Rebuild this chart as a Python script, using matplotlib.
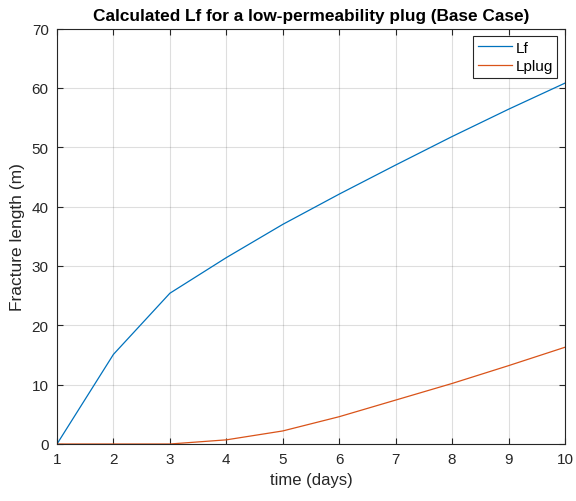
import matplotlib
matplotlib.use("Agg")
import matplotlib.pyplot as plt

plt.rcParams['font.family'] = ['Liberation Sans', 'DejaVu Sans']

time_days = [1, 2, 3, 4, 5, 6, 7, 8, 9, 10]
lf = [0.0, 15.1, 25.4, 31.4, 37.0, 42.1, 47.0, 51.8, 56.4, 60.8]
lplug = [0.0, 0.0, 0.0, 0.7, 2.2, 4.6, 7.4, 10.2, 13.2, 16.3]

axis_color = '#262626'

fig = plt.figure(figsize=(5.76, 5.02), dpi=100)
ax = fig.add_axes([57 / 576, 1 - 445 / 502, (565 - 57) / 576, (445 - 29.5) / 502])

ax.plot(time_days, lf, color='#0072BD', lw=0.9, label='Lf')
ax.plot(time_days, lplug, color='#D95319', lw=0.9, label='Lplug')

ax.set_xlim(1, 10)
ax.set_ylim(0, 70)
ax.set_xticks(range(1, 11))
ax.set_yticks(range(0, 71, 10))
ax.grid(True, color=axis_color, alpha=0.15, lw=0.8)
ax.tick_params(direction='in', top=True, right=True, length=4, width=0.8,
               colors=axis_color, labelsize=11, pad=6)
for s in ax.spines.values():
    s.set_color(axis_color)
    s.set_linewidth(0.8)

ax.set_xlabel('time (days)', fontsize=12, color=axis_color, labelpad=4)
ax.set_ylabel('Fracture length (m)', fontsize=12.5, color=axis_color, labelpad=5)
ax.set_title('Calculated Lf for a low-permeability plug (Base Case)',
             fontsize=12.4, fontweight='bold', color='black', pad=6)

leg = ax.legend(loc='upper right', fontsize=11, fancybox=False, framealpha=1,
                edgecolor=axis_color, borderpad=0.3, handlelength=2.2,
                handletextpad=0.25, labelspacing=0.3, borderaxespad=0.5)
leg.get_frame().set_linewidth(0.8)

fig.savefig('out.png', dpi=100)
